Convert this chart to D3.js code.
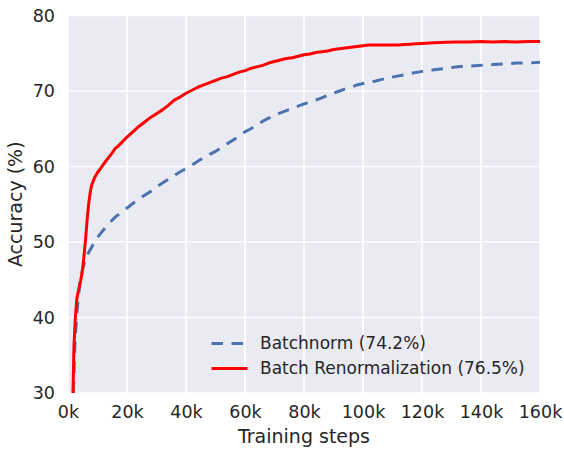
<!DOCTYPE html>
<html>
<head>
<meta charset="utf-8">
<script src="https://cdn.jsdelivr.net/npm/d3@7"></script>
<style>
  body { margin: 0; background: #fff; }
  text { font-family: "DejaVu Sans", sans-serif; fill: #262626; }
  .tick line { display: none; }
  .domain { display: none; }
</style>
</head>
<body>
<div id="wrapper"></div>
<script>
// steps in thousands
const renormSteps = [1.7, 2, 2.5, 3, 3.5, 4.3, 5, 5.5, 6, 6.5, 7, 7.5, 8, 9, 10, 11, 12, 13, 14, 15, 16, 17, 18, 19, 20,
  22, 24, 26, 28, 30, 32, 34, 36, 38, 40, 42, 44, 46, 48, 50, 52, 54, 56, 58, 60, 62, 64, 66, 68, 70,
  72, 74, 76, 78, 80, 82, 84, 86, 88, 90, 92, 94, 96, 98, 100, 102, 104, 106, 108, 110, 112, 114, 116, 118, 120,
  124, 128, 132, 136, 140, 144, 148, 152, 156, 160]
const renormAcc = [30, 36, 40, 42.5, 43.5, 44.9, 46.5, 48.5, 50.5, 53, 55, 56.5, 57.5, 58.5, 59.2, 59.7, 60.3, 60.8, 61.3, 61.8, 62.4, 62.7, 63.1, 63.5, 63.9,
  64.6, 65.3, 65.9, 66.5, 67.0, 67.5, 68.1, 68.8, 69.2, 69.7, 70.1, 70.5, 70.8, 71.1, 71.4, 71.7, 71.9, 72.2, 72.5, 72.7, 73.0, 73.2, 73.4, 73.7, 73.9,
  74.1, 74.3, 74.4, 74.6, 74.8, 74.9, 75.1, 75.2, 75.3, 75.5, 75.6, 75.7, 75.8, 75.9, 76.0, 76.1, 76.1, 76.1, 76.1, 76.1, 76.1, 76.15, 76.2, 76.25, 76.3,
  76.4, 76.45, 76.5, 76.5, 76.55, 76.5, 76.55, 76.5, 76.55, 76.55]

const bnSteps = [1.8, 2.4, 3, 3.5, 4.2, 5, 6, 7, 8, 9, 10, 12, 14, 16, 18, 20, 22, 24, 26, 28, 30, 32, 34, 36, 38, 40,
  42, 44, 46, 48, 50, 52, 54, 56, 58, 60, 62, 64, 66, 68, 70, 72, 74, 76, 78, 80, 82, 84, 86, 88, 90, 92, 94, 96, 98, 100,
  104, 108, 112, 116, 120, 124, 128, 132, 136, 140, 144, 148, 152, 156, 160]
const bnAcc = [30, 37, 40.5, 42.7, 45, 46.5, 47.8, 48.6, 49.3, 50, 50.6, 51.6, 52.5, 53.3, 53.9, 54.5, 55.1, 55.7, 56.2, 56.7, 57.3, 57.8, 58.3, 58.8, 59.3, 59.7,
  60.2, 60.7, 61.2, 61.6, 62.0, 62.5, 63.0, 63.5, 64.0, 64.6, 65.0, 65.5, 66.0, 66.4, 66.8, 67.1, 67.4, 67.7, 68.0, 68.3, 68.5, 68.8, 69.1, 69.4, 69.7, 70.0, 70.3, 70.5, 70.8, 71.0,
  71.3, 71.7, 72.0, 72.3, 72.6, 72.8, 73.0, 73.2, 73.3, 73.4, 73.5, 73.6, 73.7, 73.7, 73.8]

const xTicks = [0, 20, 40, 60, 80, 100, 120, 140, 160]
const yTicks = [30, 40, 50, 60, 70, 80]
const seriesNames = ["Batchnorm (74.2%)", "Batch Renormalization (76.5%)"]

function drawChart() {
    let dimensions = {
        width: 564,
        height: 449,
        margin: { top: 15.5, right: 24, bottom: 56, left: 68 },
    }
    dimensions.boundedWidth = dimensions.width - dimensions.margin.left - dimensions.margin.right
    dimensions.boundedHeight = dimensions.height - dimensions.margin.top - dimensions.margin.bottom

    const wrapper = d3.select("#wrapper")
        .append("svg")
        .attr("width", dimensions.width)
        .attr("height", dimensions.height)

    const bounds = wrapper.append("g")
        .attr("transform", `translate(${dimensions.margin.left},${dimensions.margin.top})`)

    bounds.append("rect")
        .attr("width", dimensions.boundedWidth)
        .attr("height", dimensions.boundedHeight)
        .attr("fill", "#EAEAF2")

    const xScale = d3.scaleLinear()
        .domain([0, 160])
        .range([0, dimensions.boundedWidth])
    const yScale = d3.scaleLinear()
        .domain([30, 80])
        .range([dimensions.boundedHeight, 0])

    // grid
    bounds.append("g").selectAll("line")
        .data(xTicks)
        .join("line")
        .attr("x1", xScale).attr("x2", xScale)
        .attr("y1", 0).attr("y2", dimensions.boundedHeight)
        .attr("stroke", "#fff").attr("stroke-width", 1.6)
    bounds.append("g").selectAll("line")
        .data(yTicks)
        .join("line")
        .attr("y1", yScale).attr("y2", yScale)
        .attr("x1", 0).attr("x2", dimensions.boundedWidth)
        .attr("stroke", "#fff").attr("stroke-width", 1.6)

    const lineGen = d3.line()
        .x(d => xScale(d[0]))
        .y(d => yScale(d[1]))

    wrapper.append("defs").append("clipPath").attr("id", "clip")
        .append("rect").attr("width", dimensions.boundedWidth).attr("height", dimensions.boundedHeight)

    const lines = bounds.append("g").attr("clip-path", "url(#clip)")
    lines.append("path")
        .datum(d3.zip(bnSteps, bnAcc))
        .attr("d", lineGen)
        .attr("fill", "none")
        .attr("stroke", "#4C72B0")
        .attr("stroke-width", 3)
        .attr("stroke-dasharray", "11.5,8.5")
    lines.append("path")
        .datum(d3.zip(renormSteps, renormAcc))
        .attr("d", lineGen)
        .attr("fill", "none")
        .attr("stroke", "#FF0000")
        .attr("stroke-width", 3)
        .attr("stroke-linejoin", "round")

    // axes
    const xAxis = bounds.append("g")
        .attr("transform", `translate(0,${dimensions.boundedHeight})`)
        .call(d3.axisBottom(xScale).tickValues(xTicks).tickFormat(d => d + "k").tickSize(0).tickPadding(13))
    xAxis.selectAll("text").style("font-size", "17.5px").attr("fill", "#262626")

    const yAxis = bounds.append("g")
        .call(d3.axisLeft(yScale).tickValues(yTicks).tickSize(0).tickPadding(13))
    yAxis.selectAll("text").style("font-size", "17.5px").attr("fill", "#262626")

    bounds.append("text")
        .attr("x", dimensions.boundedWidth / 2)
        .attr("y", dimensions.boundedHeight + 50)
        .attr("text-anchor", "middle")
        .style("font-size", "19px")
        .text("Training steps")

    bounds.append("text")
        .attr("transform", `translate(${-dimensions.margin.left + 22},${dimensions.boundedHeight / 2}) rotate(-90)`)
        .attr("text-anchor", "middle")
        .style("font-size", "19px")
        .text("Accuracy (%)")

    // legend
    const legend = wrapper.append("g").attr("transform", "translate(211.5,343.5)")
    const legendItems = legend.selectAll("g")
        .data(seriesNames)
        .join("g")
        .attr("transform", (d, i) => `translate(0,${i * 25})`)
    legendItems.append("line")
        .attr("x1", 0).attr("x2", 36)
        .attr("stroke", (d, i) => i == 0 ? "#4C72B0" : "#FF0000")
        .attr("stroke-width", 3)
        .attr("stroke-dasharray", (d, i) => i == 0 ? "11.5,8.5" : null)
    legendItems.append("text")
        .attr("x", 48.5)
        .attr("dy", "0.35em")
        .style("font-size", "17px")
        .text(d => d)
}

drawChart()
</script>
</body>
</html>
